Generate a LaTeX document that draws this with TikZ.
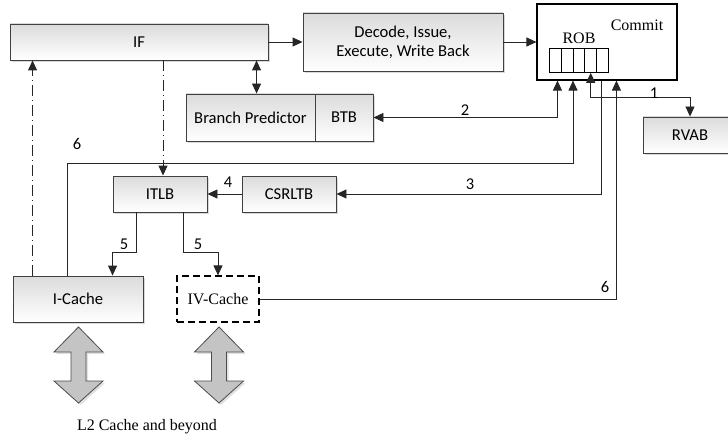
\documentclass[tikz,border=0pt]{standalone}
\usepackage{fontspec}
\setmainfont{Liberation Serif}
\newfontfamily\carl{Carlito}
\usetikzlibrary{arrows.meta,shadows,calc}
\begin{document}
\begin{tikzpicture}[x=1pt,y=-1pt,
  box/.style={draw=black!75, line width=0.9pt, top color=black!14, bottom color=white,
    drop shadow={shadow xshift=2pt, shadow yshift=-2pt, fill=black!15, opacity=1},
    inner sep=0pt, font=\carl\fontsize{16.6}{19}\selectfont, align=center},
  conn/.style={draw=black!85, line width=0.9pt},
  arr/.style={conn, -{Triangle[length=10pt,width=9pt]}},
  darr/.style={conn, {Triangle[length=10pt,width=9pt]}-{Triangle[length=10pt,width=9pt]}},
  dd/.style={conn, dash pattern=on 11pt off 4pt on 1pt off 4pt},
  num/.style={font=\carl\fontsize{16.5}{18}\selectfont, inner sep=0pt},
  ser/.style={font=\fontsize{16}{19}\selectfont, inner sep=0pt},
  cell/.style={draw=black, line width=0.8pt, minimum width=11.8pt, minimum height=24pt, inner sep=0pt, anchor=north west},
  big/.style={draw=black!70, line width=0.8pt, fill=black!23}
]
\useasboundingbox (0,0) rectangle (728,441);

% nodes
\node[box, minimum width=258pt, minimum height=36pt] (if) at (139,42) {IF};
\node[box, minimum width=200pt, minimum height=58pt] (decode) at (403,42) {Decode, Issue,\\Execute, Write Back};
\node[draw=black, line width=1.1pt, fill=white, minimum width=140pt, minimum height=76pt, inner sep=0pt] (commit) at (607,42) {};
\node[ser] (committxt) at (637,25) {Commit};
\node[ser] (robtxt) at (579,38) {ROB};
\node[cell] (r1) at (549,48) {};
\node[cell] (r2) at (560.8,48) {};
\node[cell] (r3) at (572.6,48) {};
\node[cell] (r4) at (584.4,48) {};
\node[cell] (r5) at (596.2,48) {};

\node[box, minimum width=129pt, minimum height=47pt] (bp) at (250.5,117.5) {Branch Predictor};
\node[box, minimum width=58pt, minimum height=47pt] (btb) at (344,117.5) {BTB};
\node[box, minimum width=94pt, minimum height=36pt] (rvab) at (690,135) {RVAB};
\node[box, minimum width=94pt, minimum height=36pt] (itlb) at (160,194) {ITLB};
\node[box, minimum width=94pt, minimum height=36pt] (csrltb) at (289,194) {CSRLTB};
\node[box, minimum width=130pt, minimum height=46pt] (icache) at (78,299) {I-Cache};
\node[draw=black, line width=1.2pt, dash pattern=on 7pt off 4pt, fill=white, minimum width=82pt, minimum height=46pt, inner sep=0pt, font=\fontsize{16}{19}\selectfont] (ivcache) at (218,299) {IV-Cache};

% connectors
\draw[arr] (if.east) -- (decode.west);
\draw[arr] (decode.east) -- (commit.west);
\draw[darr] ([xshift=71pt]bp.north west) -- ([xshift=71pt]bp.north west |- if.south);
\draw[darr] (btb.east) -| ([xshift=21pt]commit.south west);
\draw[darr] (r4.south) |- ($(rvab.north)+(0,-19)$) -- (rvab.north);
\draw[arr] ([xshift=65pt]commit.south west) |- (csrltb.east);
\coordinate (c6) at (573,163);
\draw[arr] ([xshift=55pt]icache.north west) |- (c6) -- (c6 |- commit.south);
\draw[arr] (ivcache.east) -| ([xshift=80pt]commit.south west);
\draw[arr] (csrltb.west) -- (itlb.east);
\draw[arr] ([xshift=-24pt]itlb.south) -- ++(0,40) -| ([xshift=100pt]icache.north west);
\draw[arr] ([xshift=23pt]itlb.south) -- ++(0,40) -| (ivcache.north);
\draw[dd, -{Triangle[length=10pt,width=9pt]}] ([xshift=20pt]icache.north west) -- ([xshift=20pt]icache.north west |- if.south);
\draw[dd, -{Triangle[length=10pt,width=9pt]}] ([xshift=3pt]itlb.north |- if.south) -- ([xshift=3pt]itlb.north);

% labels
\node[num] (n1) at (654,93) {1};
\node[num] (n2) at (465,110) {2};
\node[num] (n3) at (470,184) {3};
\node[num] (n4) at (228,182) {4};
\node[num] (n5a) at (124,244) {5};
\node[num] (n5b) at (198,244) {5};
\node[num] (n6a) at (77,144) {6};
\node[num] (n6b) at (605,287) {6};

% big double arrows
\foreach \cx in {78.5,219}{
  \fill[black!12] ($(\cx,327)+(2,2)$) -- ++(24.5,25) -- ++(-17,0) -- ++(0,29) -- ++(17,0) -- ++(-24.5,22) -- ++(-24.5,-22) -- ++(17,0) -- ++(0,-29) -- ++(-17,0) -- cycle;
  \draw[big] (\cx,327) -- ++(24.5,25) -- ++(-17,0) -- ++(0,29) -- ++(17,0) -- ++(-24.5,22) -- ++(-24.5,-22) -- ++(17,0) -- ++(0,-29) -- ++(-17,0) -- cycle;
}
\node[ser] (l2) at (147,427) {L2 Cache and beyond};
\end{tikzpicture}
\end{document}
